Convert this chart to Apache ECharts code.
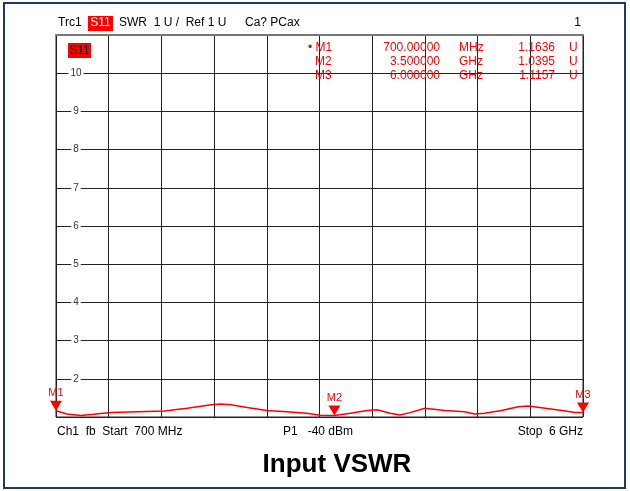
<!DOCTYPE html>
<html>
<head>
<meta charset="utf-8">
<script src="https://cdn.jsdelivr.net/npm/echarts@6/dist/echarts.min.js"></script>
<style>
  html, body { margin: 0; padding: 0; background: #fff; }
  #main { width: 630px; height: 491px; }
</style>
</head>
<body>
<div id="main"></div>
<script>
// trace: frequency (GHz) / SWR (U)
var freqGHz = [0.70, 0.81, 0.95, 1.08, 1.25, 1.52, 1.79, 2.02, 2.26, 2.36, 2.46, 2.62, 2.82, 3.02,
  3.22, 3.36, 3.50, 3.66, 3.83, 3.93, 4.06, 4.16, 4.26, 4.41, 4.61, 4.81, 4.91, 5.01, 5.18,
  5.35, 5.45, 5.62, 5.79, 5.92, 6.00];
var swr = [1.1636, 1.08, 1.04, 1.07, 1.12, 1.14, 1.16, 1.23, 1.32, 1.34, 1.32, 1.25, 1.17, 1.14,
  1.10, 1.045, 1.0395, 1.10, 1.17, 1.19, 1.10, 1.055, 1.115, 1.23, 1.17, 1.14, 1.08, 1.10, 1.17,
  1.27, 1.29, 1.23, 1.17, 1.115, 1.1157];

// markers
var markerNames = ['M1', 'M2', 'M3'];
var markerFreq = [0.7, 3.5, 6.0];
var markerVal = [1.1636, 1.0395, 1.1157];
var markerFreqText = ['700.00000', '3.500000', '6.000000'];
var markerUnit = ['MHz', 'GHz', 'GHz'];
var markerValText = ['1.1636', '1.0395', '1.1157'];

var FONT = '"Liberation Sans", Arial, sans-serif';
var RED = '#ff0000';

var chart = echarts.init(document.getElementById('main'));

var data = freqGHz.map(function (f, i) { return [f, swr[i]]; });
var marks = markerNames.map(function (n, i) {
  return { name: n, coord: [markerFreq[i], markerVal[i]] };
});

function txt(x, y, s, opt) {
  opt = opt || {};
  return {
    type: 'text', x: x, y: y, z: 10,
    style: {
      text: s, fill: opt.color || '#000', font: (opt.bold ? 'bold ' : '') + (opt.size || 12) + 'px ' + FONT,
      align: opt.align || 'left', verticalAlign: 'middle'
    }
  };
}

var graphics = [
  { type: 'rect', shape: { x: 4, y: 3, width: 621, height: 485 }, z: 0,
    style: { fill: 'none', stroke: '#1f3a5f', lineWidth: 2 } },
  txt(58, 23, 'Trc1'),
  { type: 'rect', shape: { x: 88, y: 16, width: 25, height: 15 }, z: 9, style: { fill: RED } },
  txt(100.5, 23, 'S11', { color: '#fff', align: 'center' }),
  txt(119, 23, 'SWR  1 U /  Ref 1 U'),
  txt(245, 23, 'Ca? PCax'),
  txt(581, 23, '1', { align: 'right' }),
  { type: 'rect', shape: { x: 68, y: 43, width: 23, height: 15 }, z: 9, style: { fill: RED } },
  txt(79.5, 51, 'S11', { align: 'center' }),
  txt(57, 432, 'Ch1  fb  Start  700 MHz'),
  txt(283, 432, 'P1   -40 dBm'),
  txt(583, 432, 'Stop  6 GHz', { align: 'right' }),
  txt(337, 465, 'Input VSWR', { bold: true, size: 26, align: 'center' })
];
markerNames.forEach(function (n, i) {
  var y = 48 + i * 14;
  graphics.push(txt(i === 0 ? 308 : 315, y, (i === 0 ? '\u2022 ' : '') + n, { color: RED }));
  graphics.push(txt(440, y, markerFreqText[i], { color: RED, align: 'right' }));
  graphics.push(txt(459, y, markerUnit[i], { color: RED }));
  graphics.push(txt(555, y, markerValText[i], { color: RED, align: 'right' }));
  graphics.push(txt(569, y, 'U', { color: RED }));
});

chart.setOption({
  backgroundColor: '#fff',
  animation: false,
  grid: { left: 56, top: 35, right: 47, bottom: 74, show: true, borderColor: '#222', borderWidth: 1 },
  xAxis: [
    { type: 'value', min: 0.7, max: 6, show: false },
    {
      type: 'value', min: 0, max: 10, interval: 1,
      axisLabel: { show: false }, axisTick: { show: false },
      axisLine: { show: true, lineStyle: { color: '#777', width: 2, type: [1, 1] } },
      splitLine: { show: true, lineStyle: { color: '#222', width: 1 } }
    }
  ],
  yAxis: {
    type: 'value', min: 1, max: 11, interval: 1,
    axisLine: { show: true, lineStyle: { color: '#222' } },
    axisTick: { show: false },
    splitLine: { show: true, lineStyle: { color: '#222', width: 1 } },
    axisLabel: {
      inside: true, margin: 20, align: 'center', showMinLabel: false, showMaxLabel: false,
      color: '#333', fontSize: 10, fontFamily: FONT, backgroundColor: '#fff', padding: [0, 2]
    }
  },
  series: [{
    type: 'line',
    xAxisIndex: 0,
    data: data,
    showSymbol: false,
    lineStyle: { color: RED, width: 1.5 },
    markPoint: {
      symbol: 'triangle', symbolRotate: 180, symbolSize: [12, 10], symbolOffset: [0, '-50%'],
      itemStyle: { color: RED },
      label: { show: true, position: 'top', distance: 2, formatter: '{b}', color: RED, fontSize: 11, fontFamily: FONT },
      data: marks
    }
  }],
  graphic: graphics
});
</script>
</body>
</html>
